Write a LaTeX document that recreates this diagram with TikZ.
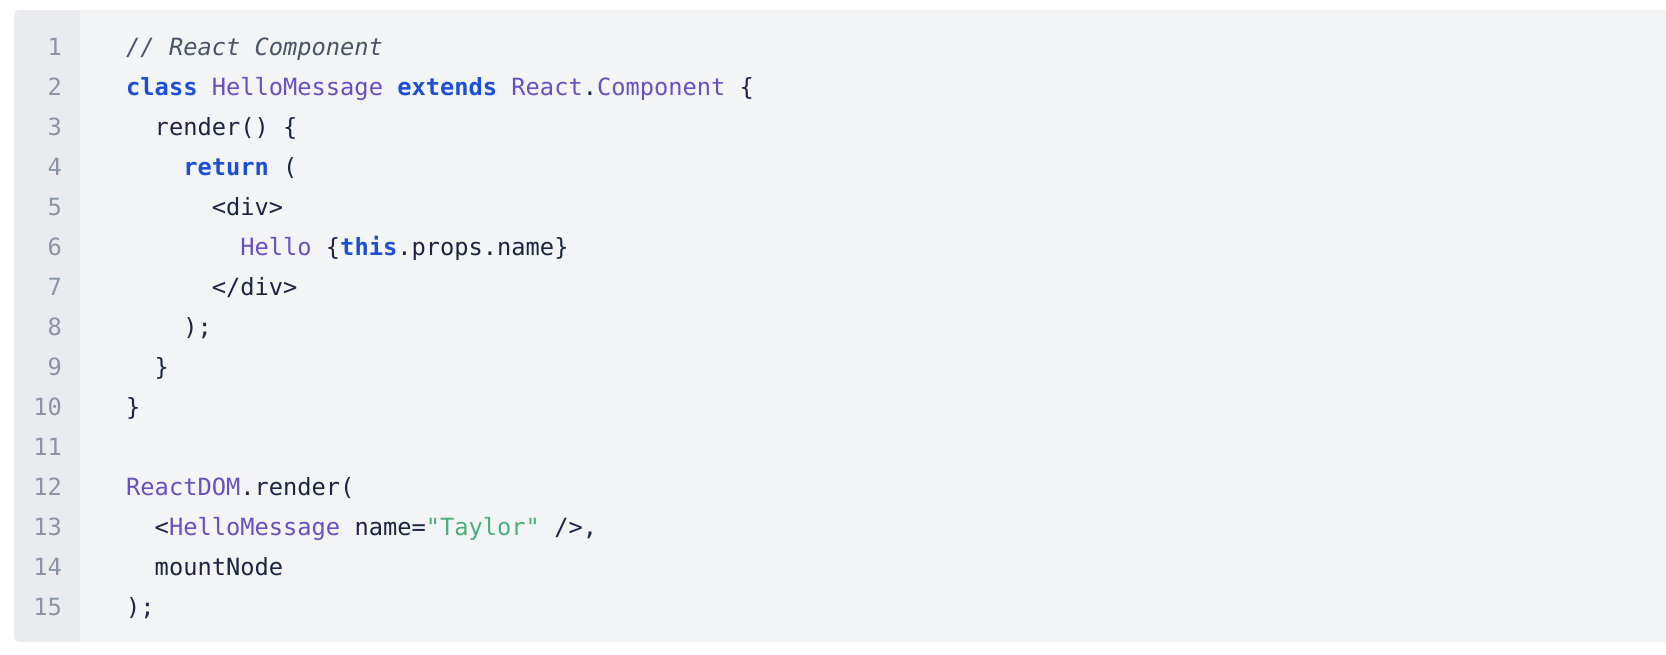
\documentclass[tikz,border=0pt]{standalone}
\usepackage{fontspec}
\newfontfamily\codefont{DejaVu Sans Mono}
\definecolor{bgc}{HTML}{F3F4F6}
\definecolor{gutc}{HTML}{E9EBEF}
\definecolor{numc}{HTML}{8A94A6}
\definecolor{txt}{HTML}{1C2541}
\definecolor{cmt}{HTML}{4A5568}
\definecolor{kw}{HTML}{1D4ED8}
\definecolor{cls}{HTML}{6A4FC0}
\definecolor{str}{HTML}{4CAF7A}
\newcommand\K[1]{{\bfseries\color{kw}#1}}
\newcommand\C[1]{{\color{cls}#1}}
\newcommand\St[1]{{\color{str}#1}}
\begin{document}
\begin{tikzpicture}[x=1pt,y=1pt,
  code/.style={anchor=base west,inner sep=0pt,font=\codefont\fontsize{23.7}{28}\selectfont,text=txt},
  num/.style={anchor=base east,inner sep=0pt,font=\codefont\fontsize{23.7}{28}\selectfont,text=numc}]
\useasboundingbox (0,0) rectangle (1666,-654);
\fill[bgc,rounded corners=6pt] (14,-10) rectangle (1680,-642);
\begin{scope}
\clip[rounded corners=6pt] (14,-10) rectangle (1680,-642);
\fill[gutc] (14,-10) rectangle (80,-642);
\end{scope}
\foreach \i in {1,...,15}{\node[num] (n\i) at (62,{-55-40*(\i-1)}) {\i};}
\def\cw{14.27}
\node[code,text=cmt,font=\codefont\itshape\fontsize{23.7}{28}\selectfont] (l1) at (126,-55) {// React Component};
\node[code] (l2) at (126,-95) {\K{class} \C{HelloMessage} \K{extends} \C{React}.\C{Component} \{};
\node[code] (l3) at (126+2*\cw,-135) {render() \{};
\node[code] (l4) at (126+4*\cw,-175) {\K{return} (};
\node[code] (l5) at (126+6*\cw,-215) {<div>};
\node[code] (l6) at (126+8*\cw,-255) {\C{Hello} \{\K{this}.props.name\}};
\node[code] (l7) at (126+6*\cw,-295) {</div>};
\node[code] (l8) at (126+4*\cw,-335) {);};
\node[code] (l9) at (126+2*\cw,-375) {\}};
\node[code] (l10) at (126,-415) {\}};
\node[code] (l12) at (126,-495) {\C{ReactDOM}.render(};
\node[code] (l13) at (126+2*\cw,-535) {<\C{HelloMessage} name=\St{"Taylor"} />,};
\node[code] (l14) at (126+2*\cw,-575) {mountNode};
\node[code] (l15) at (126,-615) {);};
\end{tikzpicture}
\end{document}
